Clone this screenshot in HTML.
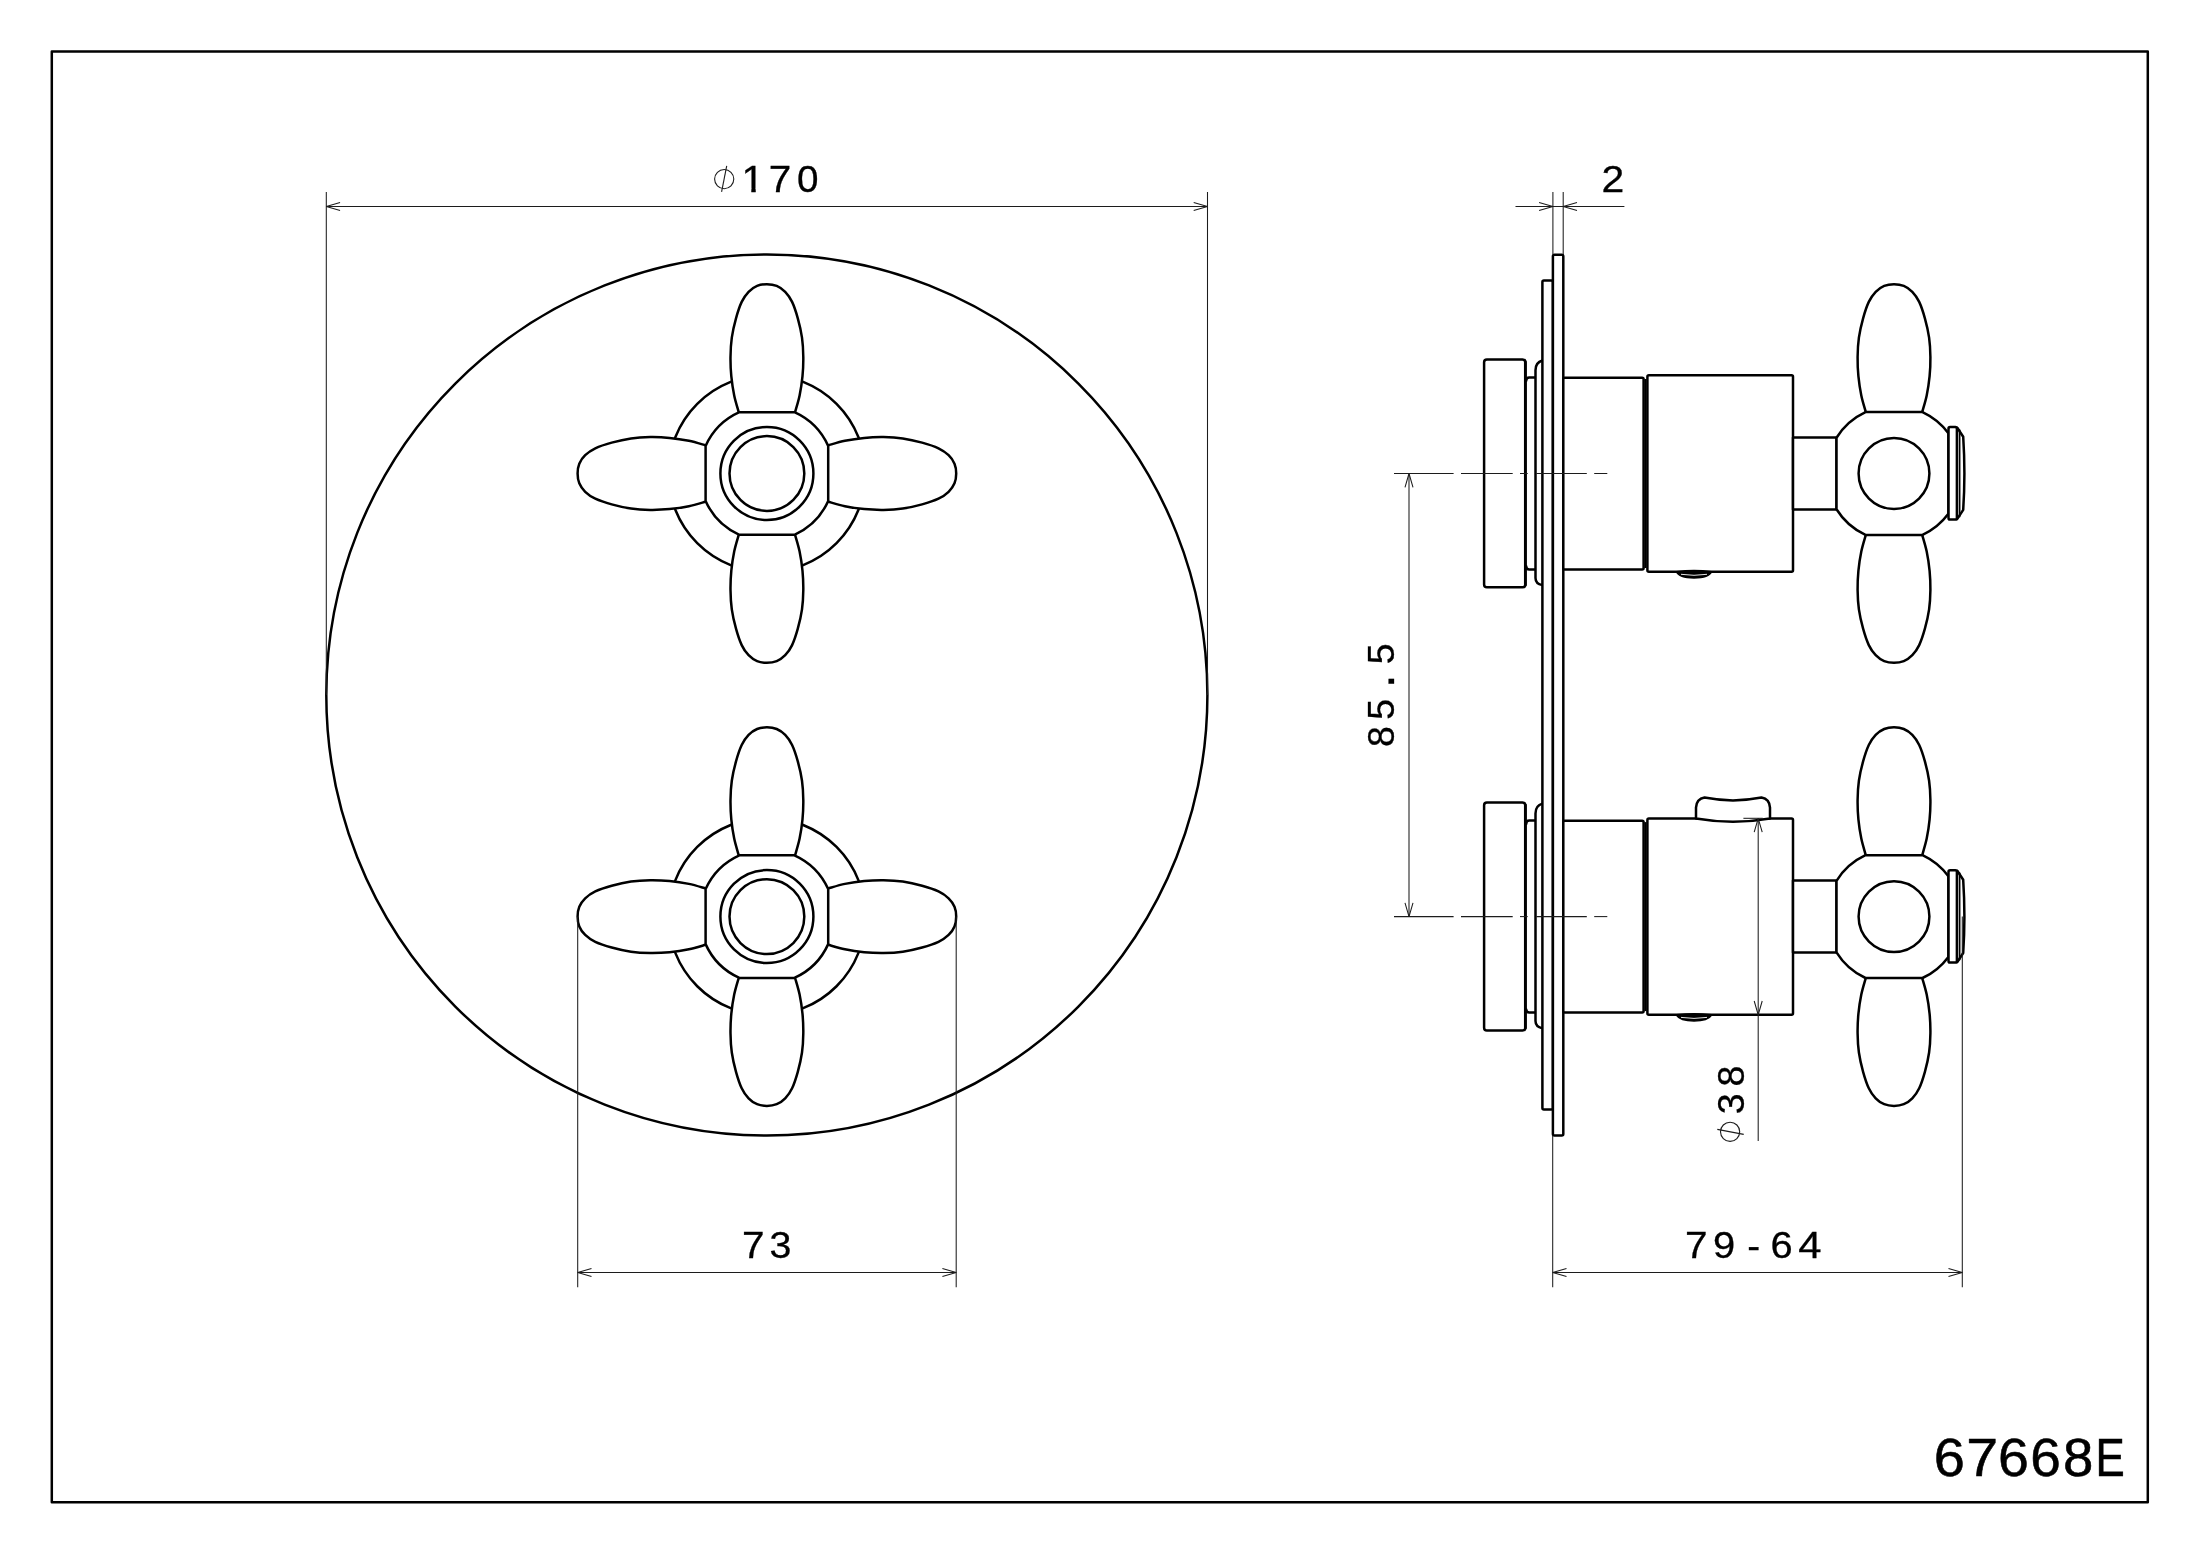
<!DOCTYPE html>
<html><head><meta charset="utf-8"><title>67668E</title>
<style>
html,body{margin:0;padding:0;background:#fff;}
body{width:2200px;height:1555px;overflow:hidden;}
svg{display:block;filter:grayscale(1);}
.k{fill:none;stroke:#000;stroke-width:2.5;stroke-linejoin:round;stroke-linecap:round;}
.w{fill:#fff;}
.t{fill:none;stroke:#1c1c1c;stroke-width:1.05;stroke-linecap:butt;stroke-linejoin:bevel;}
text{font-family:"Liberation Sans",sans-serif;fill:#000;stroke:#000;stroke-width:.3px;}
.pn{stroke-width:.55px;}
</style></head>
<body>
<svg width="2200" height="1555" viewBox="0 0 2200 1555">
<rect x="0" y="0" width="2200" height="1555" fill="#fff"/>
<rect x="51.8" y="51.5" width="2096" height="1450.7" class="k" style="stroke-width:2.5"/>
<circle cx="766.85" cy="695.05" r="440.55" class="k"/>
<circle cx="766.9" cy="473.5" r="98.5" class="k"/>
<path d="M-28.2,-61.4 C-28.95,-64.17 -31.47,-72.02 -32.7,-78 C-33.93,-83.98 -34.98,-90.87 -35.6,-97.3 C-36.22,-103.73 -36.48,-110.17 -36.4,-116.6 C-36.32,-123.03 -36.02,-129.47 -35.1,-135.9 C-34.18,-142.33 -32.55,-149.25 -30.9,-155.2 C-29.25,-161.15 -27.3,-167.18 -25.2,-171.6 C-23.1,-176.02 -20.87,-179.03 -18.3,-181.7 C-15.73,-184.37 -12.85,-186.33 -9.8,-187.6 C-6.75,-188.87 -3.27,-189.3 0,-189.3 C3.27,-189.3 6.75,-188.87 9.8,-187.6 C12.85,-186.33 15.73,-184.37 18.3,-181.7 C20.87,-179.03 23.1,-176.02 25.2,-171.6 C27.3,-167.18 29.25,-161.15 30.9,-155.2 C32.55,-149.25 34.18,-142.33 35.1,-135.9 C36.02,-129.47 36.32,-123.03 36.4,-116.6 C36.48,-110.17 36.22,-103.73 35.6,-97.3 C34.98,-90.87 33.93,-83.98 32.7,-78 C31.47,-72.02 28.95,-64.17 28.2,-61.4" transform="translate(766.9,473.5) rotate(0)" class="k w"/>
<path d="M-28.2,-61.4 C-28.95,-64.17 -31.47,-72.02 -32.7,-78 C-33.93,-83.98 -34.98,-90.87 -35.6,-97.3 C-36.22,-103.73 -36.48,-110.17 -36.4,-116.6 C-36.32,-123.03 -36.02,-129.47 -35.1,-135.9 C-34.18,-142.33 -32.55,-149.25 -30.9,-155.2 C-29.25,-161.15 -27.3,-167.18 -25.2,-171.6 C-23.1,-176.02 -20.87,-179.03 -18.3,-181.7 C-15.73,-184.37 -12.85,-186.33 -9.8,-187.6 C-6.75,-188.87 -3.27,-189.3 0,-189.3 C3.27,-189.3 6.75,-188.87 9.8,-187.6 C12.85,-186.33 15.73,-184.37 18.3,-181.7 C20.87,-179.03 23.1,-176.02 25.2,-171.6 C27.3,-167.18 29.25,-161.15 30.9,-155.2 C32.55,-149.25 34.18,-142.33 35.1,-135.9 C36.02,-129.47 36.32,-123.03 36.4,-116.6 C36.48,-110.17 36.22,-103.73 35.6,-97.3 C34.98,-90.87 33.93,-83.98 32.7,-78 C31.47,-72.02 28.95,-64.17 28.2,-61.4" transform="translate(766.9,473.5) rotate(90)" class="k w"/>
<path d="M-28.2,-61.4 C-28.95,-64.17 -31.47,-72.02 -32.7,-78 C-33.93,-83.98 -34.98,-90.87 -35.6,-97.3 C-36.22,-103.73 -36.48,-110.17 -36.4,-116.6 C-36.32,-123.03 -36.02,-129.47 -35.1,-135.9 C-34.18,-142.33 -32.55,-149.25 -30.9,-155.2 C-29.25,-161.15 -27.3,-167.18 -25.2,-171.6 C-23.1,-176.02 -20.87,-179.03 -18.3,-181.7 C-15.73,-184.37 -12.85,-186.33 -9.8,-187.6 C-6.75,-188.87 -3.27,-189.3 0,-189.3 C3.27,-189.3 6.75,-188.87 9.8,-187.6 C12.85,-186.33 15.73,-184.37 18.3,-181.7 C20.87,-179.03 23.1,-176.02 25.2,-171.6 C27.3,-167.18 29.25,-161.15 30.9,-155.2 C32.55,-149.25 34.18,-142.33 35.1,-135.9 C36.02,-129.47 36.32,-123.03 36.4,-116.6 C36.48,-110.17 36.22,-103.73 35.6,-97.3 C34.98,-90.87 33.93,-83.98 32.7,-78 C31.47,-72.02 28.95,-64.17 28.2,-61.4" transform="translate(766.9,473.5) rotate(180)" class="k w"/>
<path d="M-28.2,-61.4 C-28.95,-64.17 -31.47,-72.02 -32.7,-78 C-33.93,-83.98 -34.98,-90.87 -35.6,-97.3 C-36.22,-103.73 -36.48,-110.17 -36.4,-116.6 C-36.32,-123.03 -36.02,-129.47 -35.1,-135.9 C-34.18,-142.33 -32.55,-149.25 -30.9,-155.2 C-29.25,-161.15 -27.3,-167.18 -25.2,-171.6 C-23.1,-176.02 -20.87,-179.03 -18.3,-181.7 C-15.73,-184.37 -12.85,-186.33 -9.8,-187.6 C-6.75,-188.87 -3.27,-189.3 0,-189.3 C3.27,-189.3 6.75,-188.87 9.8,-187.6 C12.85,-186.33 15.73,-184.37 18.3,-181.7 C20.87,-179.03 23.1,-176.02 25.2,-171.6 C27.3,-167.18 29.25,-161.15 30.9,-155.2 C32.55,-149.25 34.18,-142.33 35.1,-135.9 C36.02,-129.47 36.32,-123.03 36.4,-116.6 C36.48,-110.17 36.22,-103.73 35.6,-97.3 C34.98,-90.87 33.93,-83.98 32.7,-78 C31.47,-72.02 28.95,-64.17 28.2,-61.4" transform="translate(766.9,473.5) rotate(270)" class="k w"/>
<path d="M-27.53,-61.3 L27.53,-61.3 A67.2,67.2 0 0 1 61.3,-27.53 L61.3,27.53 A67.2,67.2 0 0 1 27.53,61.3 L-27.53,61.3 A67.2,67.2 0 0 1 -61.3,27.53 L-61.3,-27.53 A67.2,67.2 0 0 1 -27.53,-61.3 Z" transform="translate(766.9,473.5)" class="k w"/>
<circle cx="766.9" cy="473.5" r="46.5" class="k"/>
<circle cx="766.9" cy="473.5" r="37.4" class="k"/>
<circle cx="766.9" cy="916.6" r="98.5" class="k"/>
<path d="M-28.2,-61.4 C-28.95,-64.17 -31.47,-72.02 -32.7,-78 C-33.93,-83.98 -34.98,-90.87 -35.6,-97.3 C-36.22,-103.73 -36.48,-110.17 -36.4,-116.6 C-36.32,-123.03 -36.02,-129.47 -35.1,-135.9 C-34.18,-142.33 -32.55,-149.25 -30.9,-155.2 C-29.25,-161.15 -27.3,-167.18 -25.2,-171.6 C-23.1,-176.02 -20.87,-179.03 -18.3,-181.7 C-15.73,-184.37 -12.85,-186.33 -9.8,-187.6 C-6.75,-188.87 -3.27,-189.3 0,-189.3 C3.27,-189.3 6.75,-188.87 9.8,-187.6 C12.85,-186.33 15.73,-184.37 18.3,-181.7 C20.87,-179.03 23.1,-176.02 25.2,-171.6 C27.3,-167.18 29.25,-161.15 30.9,-155.2 C32.55,-149.25 34.18,-142.33 35.1,-135.9 C36.02,-129.47 36.32,-123.03 36.4,-116.6 C36.48,-110.17 36.22,-103.73 35.6,-97.3 C34.98,-90.87 33.93,-83.98 32.7,-78 C31.47,-72.02 28.95,-64.17 28.2,-61.4" transform="translate(766.9,916.6) rotate(0)" class="k w"/>
<path d="M-28.2,-61.4 C-28.95,-64.17 -31.47,-72.02 -32.7,-78 C-33.93,-83.98 -34.98,-90.87 -35.6,-97.3 C-36.22,-103.73 -36.48,-110.17 -36.4,-116.6 C-36.32,-123.03 -36.02,-129.47 -35.1,-135.9 C-34.18,-142.33 -32.55,-149.25 -30.9,-155.2 C-29.25,-161.15 -27.3,-167.18 -25.2,-171.6 C-23.1,-176.02 -20.87,-179.03 -18.3,-181.7 C-15.73,-184.37 -12.85,-186.33 -9.8,-187.6 C-6.75,-188.87 -3.27,-189.3 0,-189.3 C3.27,-189.3 6.75,-188.87 9.8,-187.6 C12.85,-186.33 15.73,-184.37 18.3,-181.7 C20.87,-179.03 23.1,-176.02 25.2,-171.6 C27.3,-167.18 29.25,-161.15 30.9,-155.2 C32.55,-149.25 34.18,-142.33 35.1,-135.9 C36.02,-129.47 36.32,-123.03 36.4,-116.6 C36.48,-110.17 36.22,-103.73 35.6,-97.3 C34.98,-90.87 33.93,-83.98 32.7,-78 C31.47,-72.02 28.95,-64.17 28.2,-61.4" transform="translate(766.9,916.6) rotate(90)" class="k w"/>
<path d="M-28.2,-61.4 C-28.95,-64.17 -31.47,-72.02 -32.7,-78 C-33.93,-83.98 -34.98,-90.87 -35.6,-97.3 C-36.22,-103.73 -36.48,-110.17 -36.4,-116.6 C-36.32,-123.03 -36.02,-129.47 -35.1,-135.9 C-34.18,-142.33 -32.55,-149.25 -30.9,-155.2 C-29.25,-161.15 -27.3,-167.18 -25.2,-171.6 C-23.1,-176.02 -20.87,-179.03 -18.3,-181.7 C-15.73,-184.37 -12.85,-186.33 -9.8,-187.6 C-6.75,-188.87 -3.27,-189.3 0,-189.3 C3.27,-189.3 6.75,-188.87 9.8,-187.6 C12.85,-186.33 15.73,-184.37 18.3,-181.7 C20.87,-179.03 23.1,-176.02 25.2,-171.6 C27.3,-167.18 29.25,-161.15 30.9,-155.2 C32.55,-149.25 34.18,-142.33 35.1,-135.9 C36.02,-129.47 36.32,-123.03 36.4,-116.6 C36.48,-110.17 36.22,-103.73 35.6,-97.3 C34.98,-90.87 33.93,-83.98 32.7,-78 C31.47,-72.02 28.95,-64.17 28.2,-61.4" transform="translate(766.9,916.6) rotate(180)" class="k w"/>
<path d="M-28.2,-61.4 C-28.95,-64.17 -31.47,-72.02 -32.7,-78 C-33.93,-83.98 -34.98,-90.87 -35.6,-97.3 C-36.22,-103.73 -36.48,-110.17 -36.4,-116.6 C-36.32,-123.03 -36.02,-129.47 -35.1,-135.9 C-34.18,-142.33 -32.55,-149.25 -30.9,-155.2 C-29.25,-161.15 -27.3,-167.18 -25.2,-171.6 C-23.1,-176.02 -20.87,-179.03 -18.3,-181.7 C-15.73,-184.37 -12.85,-186.33 -9.8,-187.6 C-6.75,-188.87 -3.27,-189.3 0,-189.3 C3.27,-189.3 6.75,-188.87 9.8,-187.6 C12.85,-186.33 15.73,-184.37 18.3,-181.7 C20.87,-179.03 23.1,-176.02 25.2,-171.6 C27.3,-167.18 29.25,-161.15 30.9,-155.2 C32.55,-149.25 34.18,-142.33 35.1,-135.9 C36.02,-129.47 36.32,-123.03 36.4,-116.6 C36.48,-110.17 36.22,-103.73 35.6,-97.3 C34.98,-90.87 33.93,-83.98 32.7,-78 C31.47,-72.02 28.95,-64.17 28.2,-61.4" transform="translate(766.9,916.6) rotate(270)" class="k w"/>
<path d="M-27.53,-61.3 L27.53,-61.3 A67.2,67.2 0 0 1 61.3,-27.53 L61.3,27.53 A67.2,67.2 0 0 1 27.53,61.3 L-27.53,61.3 A67.2,67.2 0 0 1 -61.3,27.53 L-61.3,-27.53 A67.2,67.2 0 0 1 -27.53,-61.3 Z" transform="translate(766.9,916.6)" class="k w"/>
<circle cx="766.9" cy="916.6" r="46.5" class="k"/>
<circle cx="766.9" cy="916.6" r="37.4" class="k"/>
<rect x="1484.1" y="359.45" width="41.2" height="227.9" rx="2.8" class="k w"/>
<line x1="1525.4" y1="362" x2="1525.4" y2="585" class="k" style="stroke-width:2.9"/>
<path d="M1526.2,380.7 Q1526.4,377.5 1529.2,377.5 L1535.5,377.5" class="k"/>
<path d="M1526.2,566.3 Q1526.4,569.5 1529.2,569.5 L1535.5,569.5" class="k"/>
<path d="M1542.4,360.5 C1538.6,361.5 1535.5,365 1535.5,370.3 L1535.5,577.9 C1535.5,581.9 1538.4,584.3 1542.4,585.1" class="k w"/>
<rect x="1484.1" y="802.55" width="41.2" height="227.9" rx="2.8" class="k w"/>
<line x1="1525.4" y1="805.1" x2="1525.4" y2="1028.1" class="k" style="stroke-width:2.9"/>
<path d="M1526.2,823.8 Q1526.4,820.6 1529.2,820.6 L1535.5,820.6" class="k"/>
<path d="M1526.2,1009.4 Q1526.4,1012.6 1529.2,1012.6 L1535.5,1012.6" class="k"/>
<path d="M1542.4,803.6 C1538.6,804.6 1535.5,808.1 1535.5,813.4 L1535.5,1021 C1535.5,1025 1538.4,1027.4 1542.4,1028.2" class="k w"/>
<rect x="1542.4" y="280.5" width="10.5" height="829" rx="1.5" class="k w"/>
<rect x="1552.9" y="254.8" width="10.4" height="880.6" rx="1.5" class="k w"/>
<rect x="1563.3" y="377.7" width="80.3" height="191.8" rx="1.5" class="k w"/>
<rect x="1647.4" y="375.3" width="145.6" height="196.4" rx="1.5" class="k w"/>
<line x1="1645.5" y1="379" x2="1645.5" y2="568" class="k" style="stroke-width:2.2;stroke-linecap:butt"/>
<path d="M1676.5,571.7 Q1694,569.5 1711.5,571.7 Q1709,577.7 1694,577.9 Q1679,577.7 1676.5,571.7 Z" class="k" style="fill:#000;stroke-width:1.6"/>
<path d="M1681,574.3 Q1694,576.3 1707,574.3" style="fill:none;stroke:#fff;stroke-width:0.9"/>
<rect x="1793" y="437.5" width="43.5" height="72" class="k w"/>
<path d="M-28.2,-61.4 C-28.95,-64.17 -31.47,-72.02 -32.7,-78 C-33.93,-83.98 -34.98,-90.87 -35.6,-97.3 C-36.22,-103.73 -36.48,-110.17 -36.4,-116.6 C-36.32,-123.03 -36.02,-129.47 -35.1,-135.9 C-34.18,-142.33 -32.55,-149.25 -30.9,-155.2 C-29.25,-161.15 -27.3,-167.18 -25.2,-171.6 C-23.1,-176.02 -20.87,-179.03 -18.3,-181.7 C-15.73,-184.37 -12.85,-186.33 -9.8,-187.6 C-6.75,-188.87 -3.27,-189.3 0,-189.3 C3.27,-189.3 6.75,-188.87 9.8,-187.6 C12.85,-186.33 15.73,-184.37 18.3,-181.7 C20.87,-179.03 23.1,-176.02 25.2,-171.6 C27.3,-167.18 29.25,-161.15 30.9,-155.2 C32.55,-149.25 34.18,-142.33 35.1,-135.9 C36.02,-129.47 36.32,-123.03 36.4,-116.6 C36.48,-110.17 36.22,-103.73 35.6,-97.3 C34.98,-90.87 33.93,-83.98 32.7,-78 C31.47,-72.02 28.95,-64.17 28.2,-61.4" transform="translate(1894,473.5) rotate(0)" class="k w"/>
<path d="M-28.2,-61.4 C-28.95,-64.17 -31.47,-72.02 -32.7,-78 C-33.93,-83.98 -34.98,-90.87 -35.6,-97.3 C-36.22,-103.73 -36.48,-110.17 -36.4,-116.6 C-36.32,-123.03 -36.02,-129.47 -35.1,-135.9 C-34.18,-142.33 -32.55,-149.25 -30.9,-155.2 C-29.25,-161.15 -27.3,-167.18 -25.2,-171.6 C-23.1,-176.02 -20.87,-179.03 -18.3,-181.7 C-15.73,-184.37 -12.85,-186.33 -9.8,-187.6 C-6.75,-188.87 -3.27,-189.3 0,-189.3 C3.27,-189.3 6.75,-188.87 9.8,-187.6 C12.85,-186.33 15.73,-184.37 18.3,-181.7 C20.87,-179.03 23.1,-176.02 25.2,-171.6 C27.3,-167.18 29.25,-161.15 30.9,-155.2 C32.55,-149.25 34.18,-142.33 35.1,-135.9 C36.02,-129.47 36.32,-123.03 36.4,-116.6 C36.48,-110.17 36.22,-103.73 35.6,-97.3 C34.98,-90.87 33.93,-83.98 32.7,-78 C31.47,-72.02 28.95,-64.17 28.2,-61.4" transform="translate(1894,473.5) rotate(180)" class="k w"/>
<path d="M-28.52,-61.4 L28.52,-61.4 A67.7,67.7 0 0 1 54.4,-40.3 L54.4,40.3 A67.7,67.7 0 0 1 28.52,61.4 L-28.52,61.4 A67.7,67.7 0 0 1 -57.5,35.74 L-57.5,-35.74 A67.7,67.7 0 0 1 -28.52,-61.4 Z" transform="translate(1894,473.5)" class="k w"/>
<circle cx="1894" cy="473.5" r="35.4" class="k"/>
<path d="M1957.3,427.7 L1963.2,436.7 Q1965.6,473.5 1963.2,509.9 L1957.3,518.9" class="k w"/>
<line x1="1959.6" y1="430.1" x2="1959.6" y2="516.5" class="k" style="stroke-width:1.7"/>
<rect x="1948.5" y="427.1" width="8.4" height="92.4" rx="1.6" class="k w"/>
<rect x="1563.3" y="820.8" width="80.3" height="191.8" rx="1.5" class="k w"/>
<rect x="1647.4" y="818.4" width="145.6" height="196.4" rx="1.5" class="k w"/>
<line x1="1645.5" y1="822.1" x2="1645.5" y2="1011.1" class="k" style="stroke-width:2.2;stroke-linecap:butt"/>
<path d="M1676.5,1014.8 Q1694,1012.6 1711.5,1014.8 Q1709,1020.8 1694,1021 Q1679,1020.8 1676.5,1014.8 Z" class="k" style="fill:#000;stroke-width:1.6"/>
<path d="M1681,1017.4 Q1694,1019.4 1707,1017.4" style="fill:none;stroke:#fff;stroke-width:0.9"/>
<path d="M1696,818.4 L1696,807.6 Q1696.5,799.1 1704.5,797.6 Q1733,803.2 1761.5,797.6 Q1769.5,799.1 1770,807.6 L1770,818.4 Q1733,824.9 1696,818.4 Z" class="k w"/>
<rect x="1793" y="880.6" width="43.5" height="72" class="k w"/>
<path d="M-28.2,-61.4 C-28.95,-64.17 -31.47,-72.02 -32.7,-78 C-33.93,-83.98 -34.98,-90.87 -35.6,-97.3 C-36.22,-103.73 -36.48,-110.17 -36.4,-116.6 C-36.32,-123.03 -36.02,-129.47 -35.1,-135.9 C-34.18,-142.33 -32.55,-149.25 -30.9,-155.2 C-29.25,-161.15 -27.3,-167.18 -25.2,-171.6 C-23.1,-176.02 -20.87,-179.03 -18.3,-181.7 C-15.73,-184.37 -12.85,-186.33 -9.8,-187.6 C-6.75,-188.87 -3.27,-189.3 0,-189.3 C3.27,-189.3 6.75,-188.87 9.8,-187.6 C12.85,-186.33 15.73,-184.37 18.3,-181.7 C20.87,-179.03 23.1,-176.02 25.2,-171.6 C27.3,-167.18 29.25,-161.15 30.9,-155.2 C32.55,-149.25 34.18,-142.33 35.1,-135.9 C36.02,-129.47 36.32,-123.03 36.4,-116.6 C36.48,-110.17 36.22,-103.73 35.6,-97.3 C34.98,-90.87 33.93,-83.98 32.7,-78 C31.47,-72.02 28.95,-64.17 28.2,-61.4" transform="translate(1894,916.6) rotate(0)" class="k w"/>
<path d="M-28.2,-61.4 C-28.95,-64.17 -31.47,-72.02 -32.7,-78 C-33.93,-83.98 -34.98,-90.87 -35.6,-97.3 C-36.22,-103.73 -36.48,-110.17 -36.4,-116.6 C-36.32,-123.03 -36.02,-129.47 -35.1,-135.9 C-34.18,-142.33 -32.55,-149.25 -30.9,-155.2 C-29.25,-161.15 -27.3,-167.18 -25.2,-171.6 C-23.1,-176.02 -20.87,-179.03 -18.3,-181.7 C-15.73,-184.37 -12.85,-186.33 -9.8,-187.6 C-6.75,-188.87 -3.27,-189.3 0,-189.3 C3.27,-189.3 6.75,-188.87 9.8,-187.6 C12.85,-186.33 15.73,-184.37 18.3,-181.7 C20.87,-179.03 23.1,-176.02 25.2,-171.6 C27.3,-167.18 29.25,-161.15 30.9,-155.2 C32.55,-149.25 34.18,-142.33 35.1,-135.9 C36.02,-129.47 36.32,-123.03 36.4,-116.6 C36.48,-110.17 36.22,-103.73 35.6,-97.3 C34.98,-90.87 33.93,-83.98 32.7,-78 C31.47,-72.02 28.95,-64.17 28.2,-61.4" transform="translate(1894,916.6) rotate(180)" class="k w"/>
<path d="M-28.52,-61.4 L28.52,-61.4 A67.7,67.7 0 0 1 54.4,-40.3 L54.4,40.3 A67.7,67.7 0 0 1 28.52,61.4 L-28.52,61.4 A67.7,67.7 0 0 1 -57.5,35.74 L-57.5,-35.74 A67.7,67.7 0 0 1 -28.52,-61.4 Z" transform="translate(1894,916.6)" class="k w"/>
<circle cx="1894" cy="916.6" r="35.4" class="k"/>
<path d="M1957.3,870.8 L1963.2,879.8 Q1965.6,916.6 1963.2,953 L1957.3,962" class="k w"/>
<line x1="1959.6" y1="873.2" x2="1959.6" y2="959.6" class="k" style="stroke-width:1.7"/>
<rect x="1948.5" y="870.2" width="8.4" height="92.4" rx="1.6" class="k w"/>
<line x1="1394" y1="473.5" x2="1453.6" y2="473.5" class="t"/>
<line x1="1461" y1="473.5" x2="1512.7" y2="473.5" class="t"/>
<line x1="1520" y1="473.5" x2="1527.7" y2="473.5" class="t"/>
<line x1="1536.3" y1="473.5" x2="1586.8" y2="473.5" class="t"/>
<line x1="1594.2" y1="473.5" x2="1607.3" y2="473.5" class="t"/>
<line x1="1394" y1="916.6" x2="1453.6" y2="916.6" class="t"/>
<line x1="1461" y1="916.6" x2="1512.7" y2="916.6" class="t"/>
<line x1="1520" y1="916.6" x2="1527.7" y2="916.6" class="t"/>
<line x1="1536.3" y1="916.6" x2="1586.8" y2="916.6" class="t"/>
<line x1="1594.2" y1="916.6" x2="1607.3" y2="916.6" class="t"/>
<line x1="326.3" y1="192" x2="326.3" y2="695.05" class="t"/>
<line x1="1207.5" y1="192" x2="1207.5" y2="695.05" class="t"/>
<line x1="326.3" y1="206.5" x2="1207.5" y2="206.5" class="t"/>
<path d="M340.1,202.5 L326.3,206.5 L340.1,210.5" class="t"/>
<path d="M1193.7,210.5 L1207.5,206.5 L1193.7,202.5" class="t"/>
<circle cx="724.2" cy="179.1" r="9.6" class="t" style="stroke-width:1.1"/>
<line x1="726.7" y1="165.8" x2="721.6" y2="191.9" class="t" style="stroke-width:1.1"/>
<clipPath id="c1"><rect x="738" y="150" width="24" height="38.4"/><rect x="751.32" y="188.2" width="4.38" height="6"/></clipPath>
<g clip-path="url(#c1)"><text transform="translate(741.44,191.8) scale(1.08,1)" font-size="37.5">1</text></g>
<text transform="translate(768.72,191.8) scale(1.08,1)" font-size="37.5">7</text>
<text transform="translate(796.96,191.8) scale(1.03,1)" font-size="37.5">0</text>
<line x1="1552.9" y1="192" x2="1552.9" y2="254" class="t"/>
<line x1="1563.2" y1="192" x2="1563.2" y2="254" class="t"/>
<line x1="1515.5" y1="206.5" x2="1624.4" y2="206.5" class="t"/>
<path d="M1539.1,210.5 L1552.9,206.5 L1539.1,202.5" class="t"/>
<path d="M1577,202.5 L1563.2,206.5 L1577,210.5" class="t"/>
<text transform="translate(1601.43,191.8) scale(1.09,1)" font-size="37.5">2</text>
<line x1="1409" y1="473.5" x2="1409" y2="916.6" class="t"/>
<path d="M1413,487.3 L1409,473.5 L1405,487.3" class="t"/>
<path d="M1405,902.8 L1409,916.6 L1413,902.8" class="t"/>
<text transform="translate(1394.3,747.03) rotate(-90) scale(1.0,1)" font-size="37.5">8</text>
<text transform="translate(1394.3,719.69) rotate(-90) scale(1.0,1)" font-size="37.5">5</text>
<text transform="translate(1394.3,688.2) rotate(-90) scale(1.0,1)" font-size="50">.</text>
<text transform="translate(1394.3,664.34) rotate(-90) scale(1.0,1)" font-size="37.5">5</text>
<line x1="1758.2" y1="818.3" x2="1758.2" y2="1141" class="t"/>
<line x1="1743.4" y1="818.3" x2="1762.8" y2="818.3" class="t"/>
<path d="M1762.2,832.1 L1758.2,818.3 L1754.2,832.1" class="t"/>
<path d="M1754.2,1001 L1758.2,1014.8 L1762.2,1001" class="t"/>
<circle cx="1730.1" cy="1131.8" r="9.6" class="t" style="stroke-width:1.1"/>
<line x1="1717.3" y1="1129.4" x2="1743.7" y2="1134.4" class="t" style="stroke-width:1.1"/>
<text transform="translate(1743.8,1114.22) rotate(-90) scale(1.0,1)" font-size="37.5">3</text>
<text transform="translate(1743.8,1086.53) rotate(-90) scale(1.0,1)" font-size="37.5">8</text>
<line x1="577.7" y1="916.6" x2="577.7" y2="1287.3" class="t"/>
<line x1="956.2" y1="916.6" x2="956.2" y2="1287.3" class="t"/>
<line x1="577.7" y1="1272.5" x2="956.2" y2="1272.5" class="t"/>
<path d="M591.5,1268.5 L577.7,1272.5 L591.5,1276.5" class="t"/>
<path d="M942.4,1276.5 L956.2,1272.5 L942.4,1268.5" class="t"/>
<text transform="translate(741.92,1257.9) scale(1.08,1)" font-size="37.5">7</text>
<text transform="translate(769.42,1257.9) scale(1.05,1)" font-size="37.5">3</text>
<line x1="1552.7" y1="1136" x2="1552.7" y2="1287.3" class="t"/>
<line x1="1962.3" y1="916.6" x2="1962.3" y2="1287.3" class="t"/>
<line x1="1552.7" y1="1272.5" x2="1962.3" y2="1272.5" class="t"/>
<path d="M1566.5,1268.5 L1552.7,1272.5 L1566.5,1276.5" class="t"/>
<path d="M1948.5,1276.5 L1962.3,1272.5 L1948.5,1268.5" class="t"/>
<text transform="translate(1685.12,1257.8) scale(1.08,1)" font-size="37.5">7</text>
<text transform="translate(1712.92,1257.8) scale(1.063,1)" font-size="37.5">9</text>
<text transform="translate(1747.27,1257.8) scale(1.03,1)" font-size="37.5">-</text>
<text transform="translate(1770.38,1257.8) scale(1.063,1)" font-size="37.5">6</text>
<text transform="translate(1798.35,1257.8) scale(1.116,1)" font-size="37.5">4</text>
<text class="pn" transform="translate(1933.85,1475.8) scale(1.06,1)" font-size="52.8">6</text>
<text class="pn" transform="translate(1966.19,1475.8) scale(1.085,1)" font-size="52.8">7</text>
<text class="pn" transform="translate(1998.04,1475.8) scale(1.05,1)" font-size="52.8">6</text>
<text class="pn" transform="translate(2030.19,1475.8) scale(1.04,1)" font-size="52.8">6</text>
<text class="pn" transform="translate(2062.93,1475.8) scale(1.033,1)" font-size="52.8">8</text>
<text class="pn" transform="translate(2095.53,1475.8) scale(0.83,1)" font-size="52.8">E</text>
</svg>
</body></html>
